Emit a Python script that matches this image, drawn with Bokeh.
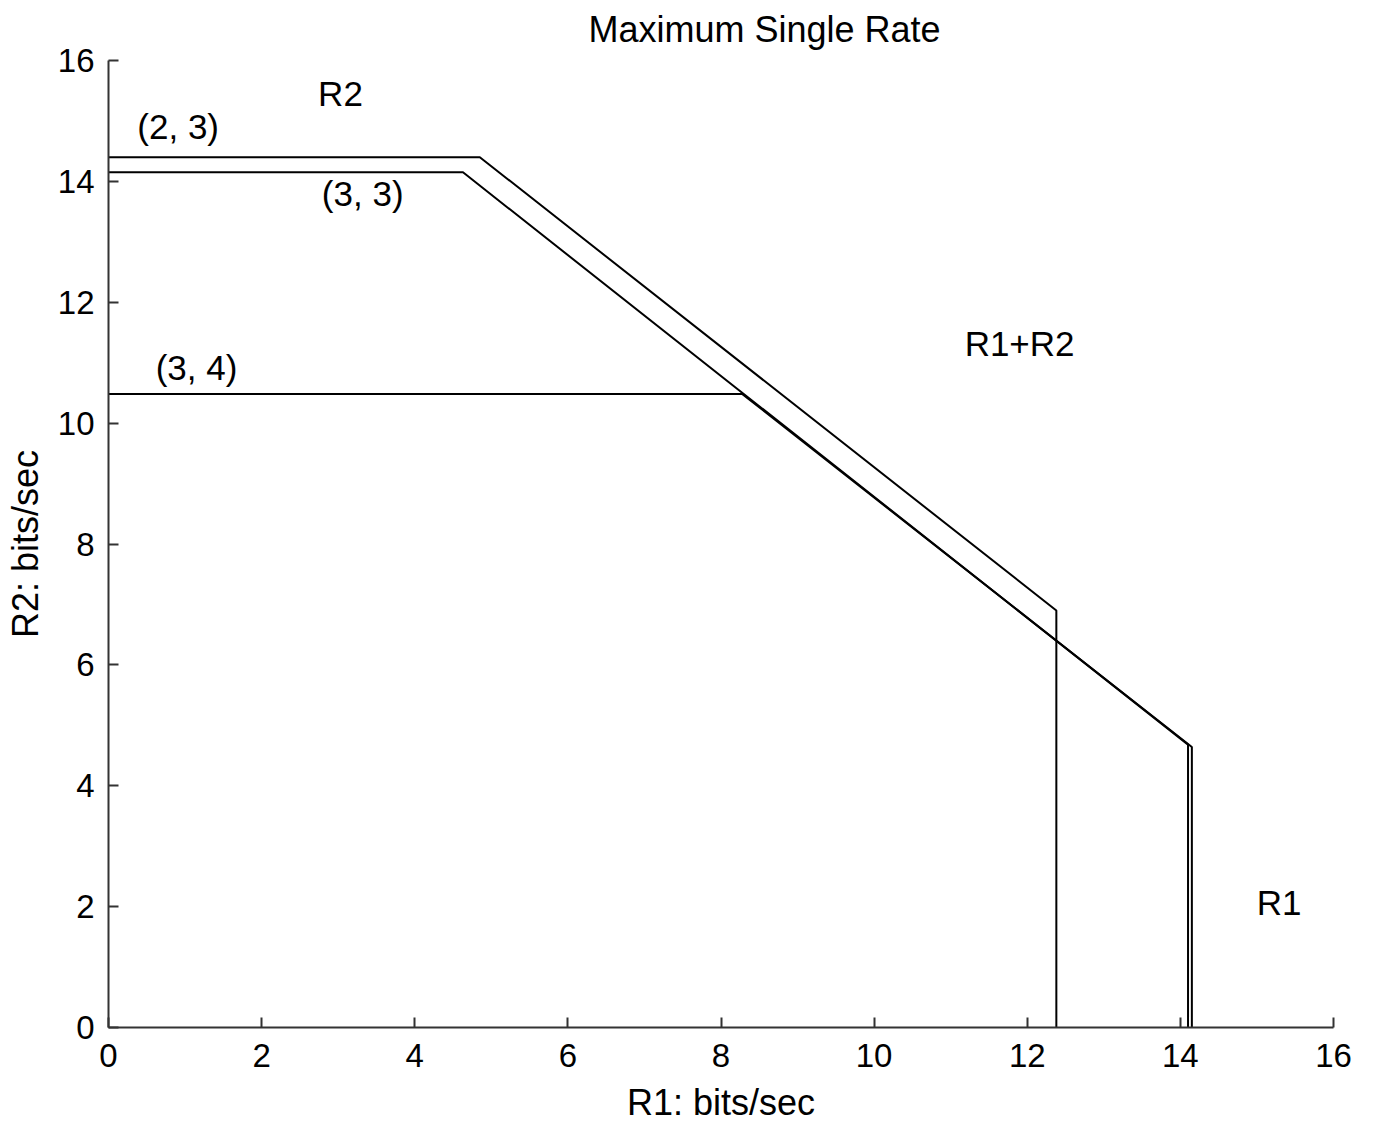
from bokeh.plotting import figure
from bokeh.models import FixedTicker, Range1d, Title, ColumnDataSource
from bokeh.core.properties import value
from bokeh.embed import file_html
from bokeh.resources import INLINE

# ---- data ----
ticks = [0, 2, 4, 6, 8, 10, 12, 14, 16]

s23_r1 = [0.0, 4.85, 12.38, 12.38]
s23_r2 = [14.40, 14.40, 6.90, 0.0]

s33_r1 = [0.0, 4.63, 14.10, 14.10]
s33_r2 = [14.15, 14.15, 4.68, 0.0]

s34_r1 = [0.0, 8.28, 14.15, 14.15]
s34_r2 = [10.48, 10.48, 4.64, 0.0]

label_text = ["R2", "(2, 3)", "(3, 3)", "(3, 4)", "R1+R2", "R1"]
label_r1 = [3.03, 0.91, 3.32, 1.15, 11.90, 15.29]
label_r2 = [15.45, 14.91, 13.80, 10.92, 11.31, 2.06]

title_text = "Maximum Single Rate"

FONT = "Liberation Sans"

p = figure(
    frame_width=1225, frame_height=967,
    min_border_left=108, min_border_right=40,
    min_border_top=60, min_border_bottom=95,
    x_range=Range1d(0, 16), y_range=Range1d(0, 16),
    output_backend="svg", toolbar_location=None,
    background_fill_color="white", border_fill_color="white",
)
p.outline_line_color = None
p.grid.visible = False

t = Title(text=title_text, align="left", offset=480, vertical_align="top",
          text_font=FONT, text_font_size="36px", text_font_style="normal",
          text_color="black", standoff=17)
p.add_layout(t, "above")

for ax, lab in ((p.xaxis[0], "R1: bits/sec"), (p.yaxis[0], "R2: bits/sec")):
    ax.ticker = FixedTicker(ticks=ticks)
    ax.axis_label = lab
    ax.axis_label_text_font = FONT
    ax.axis_label_text_font_size = "36px"
    ax.axis_label_text_font_style = "normal"
    ax.axis_label_text_color = "black"
    ax.major_label_text_font = FONT
    ax.major_label_text_font_size = "33px"
    ax.major_label_text_color = "black"
    ax.major_tick_in = 10
    ax.major_tick_out = 0
    ax.minor_tick_in = 0
    ax.minor_tick_out = 0
    ax.axis_line_color = "#333333"
    ax.axis_line_width = 2
    ax.major_tick_line_color = "#333333"
    ax.major_tick_line_width = 2

p.xaxis.major_label_standoff = 16
p.xaxis.axis_label_standoff = 12
p.yaxis.major_label_standoff = 14
p.yaxis.axis_label_standoff = 9

for xs, ys in ((s23_r1, s23_r2), (s33_r1, s33_r2), (s34_r1, s34_r2)):
    p.line(xs, ys, line_color="black", line_width=2)

src = ColumnDataSource(dict(x=label_r1, y=label_r2, t=label_text))
p.text(x="x", y="y", text="t", source=src, text_font=value(FONT),
       text_font_size="35px", text_color="black",
       text_align="center", text_baseline="middle")

open("out.html", "w").write(file_html(p, INLINE))
